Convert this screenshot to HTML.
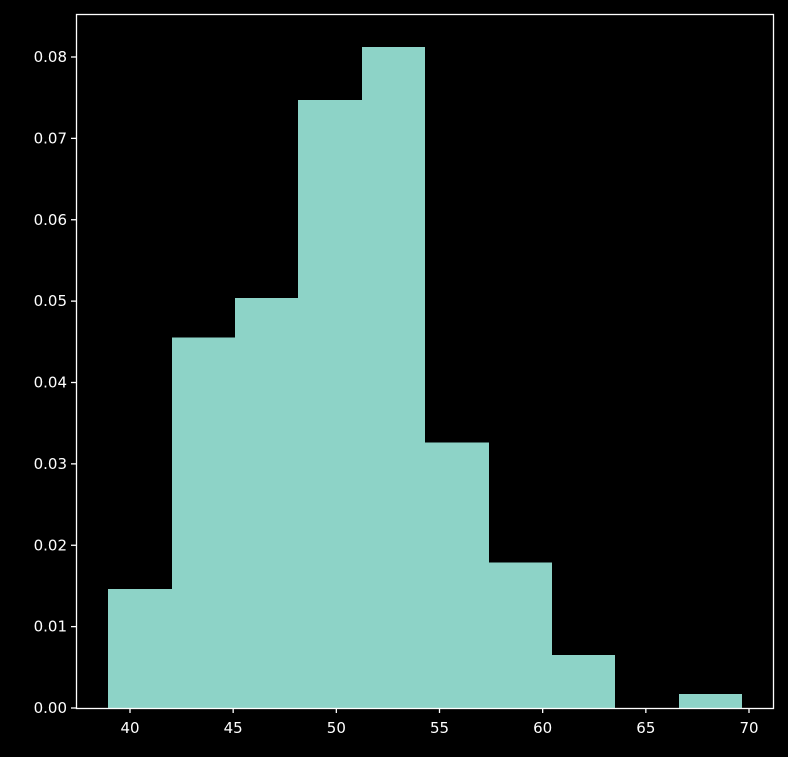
<!DOCTYPE html>
<html><head><meta charset="utf-8"><style>
html,body{margin:0;padding:0;background:#000;}
svg{display:block;}
text{font-family:"DejaVu Sans","Liberation Sans",sans-serif;font-size:15px;fill:#fff;}
</style></head><body>
<svg id="chart" width="788" height="757" xmlns="http://www.w3.org/2000/svg">
<rect width="788" height="757" fill="#000"/>
<g id="bars" shape-rendering="crispEdges"></g>
<g id="axes"></g>
</svg>
<script>
const binStart = 38.94;
const binWidth = 3.073;
const densities = [0.0146, 0.0455, 0.0504, 0.0747, 0.0812, 0.0326, 0.0179, 0.0065, 0, 0.0017];
const xTicks = [40, 45, 50, 55, 60, 65, 70];
const yTicks = [0, 0.01, 0.02, 0.03, 0.04, 0.05, 0.06, 0.07, 0.08];
const yTickLabels = ["0.00","0.01","0.02","0.03","0.04","0.05","0.06","0.07","0.08"];

const L=76,R=774,T=14,B=708;
const xs = v => 130 + (v-40)*(619/30);
const ys = v => B - v*(651/0.08);
const NS="http://www.w3.org/2000/svg";
const bars=document.getElementById('bars'), axes=document.getElementById('axes');
function mk(tag,attrs,parent){const e=document.createElementNS(NS,tag);for(const k in attrs)e.setAttribute(k,attrs[k]);parent.appendChild(e);return e;}

densities.forEach((d,i)=>{
  if(d<=0)return;
  const x0=Math.round(xs(binStart+i*binWidth)), x1=Math.round(xs(binStart+(i+1)*binWidth));
  const r=mk('rect',{x:x0,y:ys(d),width:x1-x0,height:B-ys(d),fill:'#8dd3c7'},bars);
  
  
});

const frame=mk('rect',{x:L+0.5,y:T+0.5,width:R-L-1,height:B-T,fill:'none',stroke:'#fff','stroke-width':1.3},axes);



xTicks.forEach(v=>{
  const x=xs(v);
  const t=mk('line',{x1:x,x2:x,y1:B,y2:B+5,stroke:'#fff','stroke-width':1.3},axes);
  
  
  const l=mk('text',{x:x,y:B+25,'text-anchor':'middle'},axes);
  l.textContent=v;
  
  
});
yTicks.forEach((v,i)=>{
  const y=ys(v);
  const t=mk('line',{x1:L-5,x2:L,y1:y,y2:y,stroke:'#fff','stroke-width':1.3},axes);
  
  
  const l=mk('text',{x:L-9,y:y+5,'text-anchor':'end'},axes);
  l.textContent=yTickLabels[i];
  
  
});
</script>
</body></html>
